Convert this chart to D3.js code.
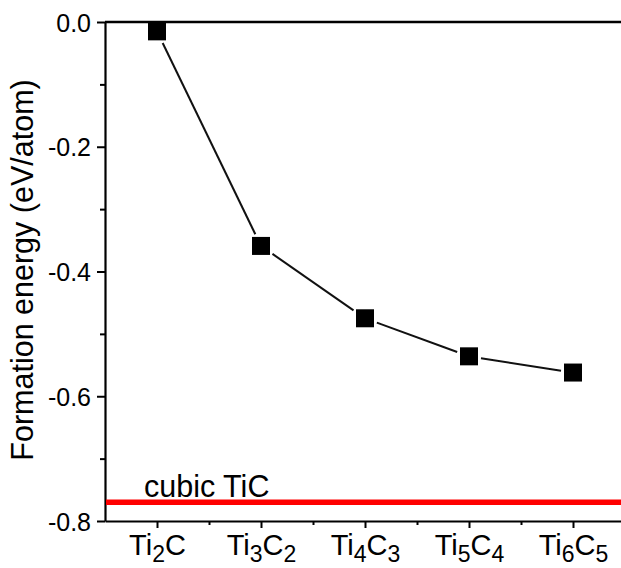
<!DOCTYPE html>
<html>
<head>
<meta charset="utf-8">
<script src="https://cdn.jsdelivr.net/npm/d3@7"></script>
<style>
  html, body { margin: 0; padding: 0; background: #fff; }
  svg { display: block; font-family: "Liberation Sans", Arial, sans-serif; }
</style>
</head>
<body>
<svg id="chart" width="621" height="568"></svg>
<script>
// Formation energy of Ti(n+1)C(n) phases vs. the cubic TiC reference
const categories = ["Ti2C", "Ti3C2", "Ti4C3", "Ti5C4", "Ti6C5"];
const formationEnergy = [-0.015, -0.359, -0.475, -0.536, -0.562];
const cubicTiC = -0.770;
const cubicLabel = "cubic TiC";
const yTicks = [0.0, -0.2, -0.4, -0.6, -0.8];
const yMinorTicks = [-0.1, -0.3, -0.5, -0.7];
const yTitle = "Formation energy (eV/atom)";

const svg = d3.select("#chart");
const W = 621, H = 568;
const plotLeft = 105, plotTop = 22, plotBottom = 521, plotRight = 625;

const x = d3.scaleLinear().domain([0.5, categories.length + 0.5]).range([plotLeft, plotRight]);
const y = d3.scaleLinear().domain([-0.8, 0.0]).range([plotBottom, plotTop]);

const idx = categories.map((_, i) => i + 1);
const minorX = idx.map(i => i + 0.5);

// minor ticks first, then major axes on top
svg.append("g")
  .attr("transform", `translate(0,${plotBottom})`)
  .call(d3.axisBottom(x).tickValues(minorX).tickSize(4).tickFormat(""))
  .call(g => g.select(".domain").remove())
  .selectAll("line").attr("stroke-width", 2);

svg.append("g")
  .attr("transform", `translate(${plotLeft},0)`)
  .call(d3.axisLeft(y).tickValues(yMinorTicks).tickSize(5).tickFormat(""))
  .call(g => g.select(".domain").remove())
  .selectAll("line").attr("stroke-width", 2);

// bottom axis with subscripted phase labels
const xAxis = svg.append("g")
  .attr("transform", `translate(0,${plotBottom})`)
  .call(d3.axisBottom(x).tickValues(idx).tickSize(7).tickSizeOuter(0).tickFormat(""));
xAxis.select(".domain").attr("stroke-width", 2.2);
xAxis.selectAll("line").attr("stroke-width", 2);
xAxis.selectAll(".tick").each(function(d) {
  const label = categories[d - 1];
  const t = d3.select(this).append("text")
    .attr("y", 34)
    .attr("fill", "#000")
    .attr("font-size", 29)
    .attr("text-anchor", "middle");
  const parts = label.match(/[A-Za-z]+|\d+/g);
  parts.forEach((p, k) => {
    if (/\d/.test(p)) {
      t.append("tspan").attr("font-size", 23).attr("dy", 7).text(p);
    } else {
      const s = t.append("tspan").text(p);
      if (k > 0) s.attr("dy", -7);
    }
  });
});

// left axis
const yAxis = svg.append("g")
  .attr("transform", `translate(${plotLeft},0)`)
  .call(d3.axisLeft(y).tickValues(yTicks).tickSize(8).tickSizeOuter(0).tickPadding(6)
    .tickFormat(d => d3.format(".1f")(d).replace("−", "-")));
yAxis.select(".domain").attr("stroke-width", 2.2);
yAxis.selectAll("line").attr("stroke-width", 2);
yAxis.selectAll("text").attr("font-size", 25).attr("fill", "#000")
  .attr("font-family", "'Liberation Sans', Arial, sans-serif")
  .attr("dy", "0.36em");

// top frame line
svg.append("line")
  .attr("x1", plotLeft).attr("x2", W)
  .attr("y1", y(0)).attr("y2", y(0))
  .attr("stroke", "#000").attr("stroke-width", 2.4);

// cubic TiC reference level
svg.append("line")
  .attr("x1", plotLeft + 1).attr("x2", W)
  .attr("y1", y(cubicTiC)).attr("y2", y(cubicTiC))
  .attr("stroke", "#f00").attr("stroke-width", 5.5);
svg.append("text")
  .attr("x", 144).attr("y", y(cubicTiC) - 5)
  .attr("font-size", 30.5).attr("fill", "#000")
  .text(cubicLabel);

// connecting segments, stopping short of the markers
const half = 9, gap = 3;
const pts = formationEnergy.map((v, i) => [x(i + 1), y(v)]);
for (let i = 0; i < pts.length - 1; i++) {
  const [x0, y0] = pts[i], [x1, y1] = pts[i + 1];
  const dx = x1 - x0, dy = y1 - y0, len = Math.hypot(dx, dy);
  const ux = dx / len, uy = dy / len;
  // distance from square centre to its edge along this direction
  const edge = half / Math.max(Math.abs(ux), Math.abs(uy)) + gap;
  svg.append("line")
    .attr("x1", x0 + ux * edge).attr("y1", y0 + uy * edge)
    .attr("x2", x1 - ux * edge).attr("y2", y1 - uy * edge)
    .attr("stroke", "#111").attr("stroke-width", 2);
}

// square markers
svg.append("g").selectAll("rect")
  .data(formationEnergy)
  .join("rect")
  .attr("x", (d, i) => x(i + 1) - half)
  .attr("y", d => y(d) - half)
  .attr("width", half * 2).attr("height", half * 2)
  .attr("fill", "#000");

// y-axis title
svg.append("text")
  .attr("transform", `translate(33,270) rotate(-90)`)
  .attr("text-anchor", "middle")
  .attr("font-size", 30.5).attr("fill", "#000")
  .text(yTitle);
</script>
</body>
</html>
